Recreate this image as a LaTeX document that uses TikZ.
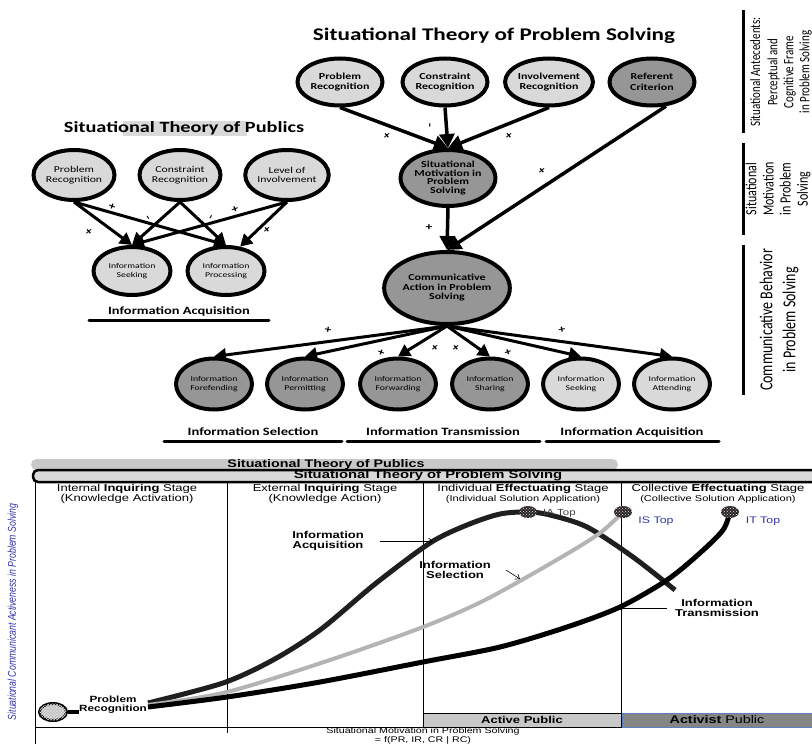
\documentclass[tikz,border=0pt]{standalone}
\usepackage{fontspec}
\setmainfont{Carlito}[FakeStretch=1.3]
\newfontfamily\arialfont{Liberation Sans}[FakeStretch=1.3]
\newfontfamily\sidefont{Carlito}
\newfontfamily\axisfont{Liberation Sans}
\usetikzlibrary{arrows.meta,patterns,shapes.geometric}
\definecolor{bubblelight}{HTML}{D9D9D9}
\definecolor{bubbledark}{HTML}{969696}
\definecolor{bargray}{HTML}{C8C8C8}
\definecolor{curvegray}{HTML}{B4B4B4}
\definecolor{topblue}{HTML}{3333AA}
\definecolor{activistfill}{HTML}{858585}
\definecolor{activistedge}{HTML}{5B7FC0}

\begin{document}
\begin{tikzpicture}[x=1pt,y=-1pt,
  bubble/.style={ellipse,draw,line width=4pt,inner sep=0pt,align=center,fill=bubblelight},
  darkbub/.style={bubble,fill=bubbledark},
  bigbub/.style={minimum width=85,minimum height=47,font=\fontsize{9.2}{10.5}\selectfont\bfseries},
  pubbub/.style={minimum width=81,minimum height=50,font=\fontsize{9}{9.5}\selectfont},
  acqbub/.style={minimum width=77,minimum height=48,font=\fontsize{7.5}{9}\selectfont},
  smallbub/.style={minimum width=76,minimum height=51,font=\fontsize{7.5}{8.5}\selectfont},
  arr/.style={line width=3.5pt,-{Triangle[length=14pt,width=15pt]}},
  thinarr/.style={line width=3pt,-{Triangle[length=12pt,width=13pt]}},
  sign/.style={font=\fontsize{10.5}{10}\selectfont\bfseries,inner sep=0pt},
  grouprule/.style={line width=3pt,line cap=round},
  grouptext/.style={font=\fontsize{11.2}{12}\selectfont\bfseries,inner sep=0pt},
  sidetext/.style={xscale=1.3,rotate=90,align=center,inner sep=0pt},
  stage/.style={font=\arialfont\fontsize{10}{10}\selectfont,align=center,inner sep=0pt},
  chartlabel/.style={font=\arialfont\bfseries\fontsize{10}{10}\selectfont,align=center,inner sep=0pt},
  topmark/.style={ellipse,minimum width=18,minimum height=12,inner sep=0pt,fill=black!85,
    postaction={pattern=crosshatch dots,pattern color=pink!50!white}},
  pointer/.style={line width=.6pt,-{Straight Barb[length=4pt,width=6pt]}},
]
\useasboundingbox (0,0) rectangle (812,744);

% Situational Theory of Problem Solving
\node[font=\fontsize{17.8}{20}\selectfont\bfseries] (pstitle) at (494,36) {Situational Theory of Problem Solving};
\node[bubble,bigbub] (prob) at (340,82) {Problem\\Recognition};
\node[bubble,bigbub] (cons) at (445,82) {Constraint\\Recognition};
\node[bubble,bigbub] (invo) at (549,82) {Involvement\\Recognition};
\node[darkbub,bigbub] (refc) at (652,82) {Referent\\Criterion};
\node[darkbub,minimum width=93,minimum height=56,font=\fontsize{9.2}{8.8}\selectfont\bfseries] (motiv) at (448,178) {Situational\\Motivation in\\Problem\\Solving};
\node[darkbub,minimum width=109,minimum height=72,font=\fontsize{9.2}{9.5}\selectfont\bfseries] (action) at (447,288) {Communicative\\Action in Problem\\Solving};
\draw[arr] (prob.south) -- (motiv.north);
\draw[arr] (cons.south) -- (motiv.north);
\draw[arr] (invo.south) -- (motiv.north);
\draw[arr] (refc.-60) -- (action.north);
\draw[arr] (motiv.south) -- (action.north);
\node[sign,rotate=40] (sgpr) at (387,136) {+};
\node[sign,rotate=90] (sgcr) at (431,125) {-};
\node[sign,rotate=40] (sgir) at (509,136) {+};
\node[sign,rotate=40] (sgrc) at (542,171) {+};
\node[sign] (sgsm) at (429,228) {+};

\node[darkbub,smallbub] (fore) at (214,384) {Information\\Forefending};
\node[darkbub,smallbub] (perm) at (305,384) {Information\\Permitting};
\node[darkbub,smallbub] (forw) at (398,384) {Information\\Forwarding};
\node[darkbub,smallbub] (shar) at (490,384) {Information\\Sharing};
\node[bubble,smallbub] (seek) at (581,384) {Information\\Seeking};
\node[bubble,smallbub] (atte) at (672,384) {Information\\Attending};
\foreach \b in {fore,perm,forw,shar,seek,atte}
  \draw[thinarr] (action.south) -- (\b.north);
\node[sign,rotate=-10] (sgfo) at (328,330) {+};
\node[sign,rotate=-20] (sgfw) at (381,353) {+};
\node[sign,rotate=40] (sgw1) at (435,348) {+};
\node[sign,rotate=40] (sgw2) at (456,348) {+};
\node[sign,rotate=20] (sgsh) at (508,353) {+};
\node[sign,rotate=10] (sgse) at (562,330) {+};

\node[grouptext] (selgroup) at (253,432) {Information Selection};
\node[grouptext] (trgroup) at (443,432) {Information Transmission};
\node[grouptext] (acgroup) at (632,432) {Information Acquisition};
\draw[grouprule] (164,441) -- (342,441);
\draw[grouprule] (347,441) -- (540,441);
\draw[grouprule] (546,441) -- (719,441);

% Situational Theory of Publics
\fill[bubblelight] (123,121) rectangle (247,136);
\node[font=\fontsize{15.6}{16}\selectfont\bfseries] (pubtitle) at (184,128) {Situational Theory of Publics};
\node[bubble,pubbub] (lprob) at (74,175) {Problem\\Recognition};
\node[bubble,pubbub] (lcons) at (180,175) {Constraint\\Recognition};
\node[bubble,pubbub] (linvo) at (287,175) {Level of\\Involvement};
\node[bubble,acqbub] (lseek) at (132,271) {Information\\Seeking};
\node[bubble,acqbub] (lproc) at (226,271) {Information\\Processing};
\draw[thinarr] (lprob.south) -- (lseek.north);
\draw[thinarr] (lprob.south) -- (lproc.north);
\draw[thinarr] (lcons.south) -- (lseek.north);
\draw[thinarr] (lcons.south) -- (lproc.north);
\draw[thinarr] (linvo.south) -- (lseek.north);
\draw[thinarr] (linvo.south) -- (lproc.60);
\node[sign,rotate=40] (lsg1) at (89,232) {+};
\node[sign,rotate=-20] (lsg2) at (112,207) {+};
\node[sign,rotate=-60] (lsg3) at (147,218) {-};
\node[sign,rotate=60] (lsg4) at (212,218) {-};
\node[sign,rotate=20] (lsg5) at (235,210) {+};
\node[sign,rotate=40] (lsg6) at (267,230) {+};
\node[font=\fontsize{11.1}{12}\selectfont\bfseries,inner sep=0pt] (lacq) at (179,311) {Information Acquisition};
\draw[grouprule] (89,320) -- (269,320);

% side headings
\draw[line width=3pt] (743,10) -- (743,133);
\draw[line width=3pt] (743,143) -- (743,235);
\draw[line width=3pt] (743,245) -- (743,395);
\node[sidetext,font=\sidefont\fontsize{11}{12.3}\selectfont] (antec) at (781,72) {Situational Antecedents:\\[1pt]Perceptual and\\Cognitive Frame\\in Problem Solving};
\node[sidetext,font=\sidefont\fontsize{12}{13.2}\selectfont] (motside) at (778,189) {Situational\\Motivation\\in Problem\\Solving};
\node[sidetext,font=\sidefont\fontsize{14}{17.7}\selectfont] (behside) at (779,320) {Communicative Behavior\\in Problem Solving};

% chart
\fill[bargray,rounded corners=5.5] (31,459) rectangle (618,470);
\node[font=\arialfont\bfseries\fontsize{11}{11}\selectfont,inner sep=0pt] (pubbar) at (326,465) {Situational Theory of Publics};
\draw[line width=2.5pt,fill=bubblelight,rounded corners=5] (33,470) rectangle (830,482);
\node[font=\arialfont\bfseries\fontsize{11.4}{11}\selectfont,inner sep=0pt] (psbar) at (428,476.5) {\underline{Situational Theory of Problem Solving}};

\draw[line width=1pt] (35,482) -- (35,744);
\draw[line width=1pt] (35,727) -- (812,727);
\draw[line width=.9pt] (227,482) -- (227,733);
\draw[line width=.9pt] (423,482) -- (423,727);
\draw[line width=.9pt] (621,482) -- (621,727);

\node[stage] (stage1) at (127,494) {Internal \textbf{Inquiring} Stage\\(Knowledge Activation)};
\node[stage] (stage2) at (325,494) {External \textbf{Inquiring} Stage\\(Knowledge Action)};
\node[stage] (stage3) at (523,494) {Individual \textbf{Effectuating} Stage\\{\fontsize{8.5}{9}\selectfont(Individual Solution Application)}};
\node[stage] (stage4) at (718,494) {Collective \textbf{Effectuating} Stage\\{\fontsize{8.5}{9}\selectfont(Collective Solution Application)}};

\draw[fill=bargray,line width=.8pt] (423,713) rectangle (621,727);
\node[chartlabel] (active) at (522,720) {Active Public};
\draw[fill=activistfill,draw=activistedge,line width=.8pt] (622,713) rectangle (813,727);
\node[stage,font=\arialfont\fontsize{11}{10}\selectfont] (activist) at (717,720) {\textbf{Activist} Public};

\coordinate (iastart) at (148,703);
\coordinate (isstart) at (148,705);
\coordinate (itstart) at (148,707);
\coordinate (iaend) at (675,590);
\coordinate (iatop) at (528,512);
\coordinate (istop) at (623,512);
\coordinate (ittop) at (730,512);
\draw[line width=5pt,black!88] plot[smooth] coordinates {(iastart) (223,683) (273,660) (320,630) (375,584) (430,543) (467,525) (500,514) (iatop) (550,515) (587,527) (633,557) (iaend)};
\draw[line width=4pt,curvegray] plot[smooth] coordinates {(isstart) (227,692) (330,660) (423,627) (485,600) (560,558) (600,533) (istop)};
\draw[line width=5pt] plot[smooth] coordinates {(itstart) (227,697) (320,682) (423,662) (500,647) (567,627) (620,607) (667,580) (700,553) (723,530) (ittop)};
\node[topmark] (iamark) at (iatop) {};
\node[topmark] (ismark) at (istop) {};
\node[topmark] (itmark) at (ittop) {};
\node[font=\arialfont\fontsize{8.8}{10}\selectfont,text=black!75,inner sep=0pt,anchor=west] (iatext) at (543,513) {IA Top};
\node[font=\arialfont\fontsize{9.5}{10}\selectfont,text=topblue,inner sep=0pt] (istext) at (656,521) {IS Top};
\node[font=\arialfont\fontsize{9.5}{10}\selectfont,text=topblue,inner sep=0pt] (ittext) at (763,521) {IT Top};

\node[ellipse,draw,line width=3pt,minimum width=27,minimum height=17,inner sep=0pt,fill=gray!55,
  postaction={pattern=crosshatch,pattern color=gray!25}] (prmark) at (53,712) {};
\draw[line width=4pt] (prmark.east) -- ++(14,0);
\node[chartlabel,font=\arialfont\bfseries\fontsize{9}{9}\selectfont,fill=white,inner sep=.5pt] (prlabel) at (113,705) {Problem\\Recognition};

\node[chartlabel] (ialabel) at (328,541) {Information\\Acquisition};
\coordinate (iahit) at (433,541);
\draw[pointer] ([xshift=16pt]ialabel.east) -- (iahit);
\node[chartlabel] (islabel) at (455,570) {Information\\Selection};
\coordinate (ishit) at (520,579);
\draw[pointer] ([xshift=15pt]islabel.east) -- (ishit);
\node[chartlabel] (itlabel) at (717,608) {Information\\Transmission};
\coordinate (ithit) at (617,608);
\draw[line width=.6pt,-{Triangle[open,length=5pt,width=5pt]}] ([xshift=-8pt]itlabel.west) -- (ithit);

\node[xscale=1.3,rotate=90,font=\axisfont\itshape\fontsize{8.7}{9}\selectfont,text=topblue,inner sep=0pt] (yaxis) at (13,612) {Situational Communicant Activeness in Problem Solving};
\node[stage,font=\arialfont\fontsize{8.2}{7.6}\selectfont,anchor=south] (xaxis) at (423,744.5) {Situational Motivation in Problem Solving\\= f(PR, IR, CR | RC)};
\end{tikzpicture}
\end{document}
